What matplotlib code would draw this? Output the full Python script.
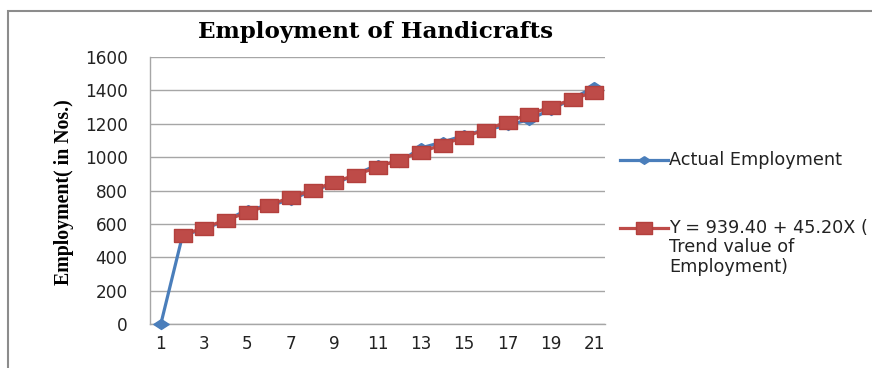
import matplotlib
matplotlib.use("Agg")
import matplotlib.pyplot as plt
from matplotlib.lines import Line2D
from matplotlib.patches import Rectangle

years = list(range(1, 22))
actual = [0, 530, 570, 620, 685, 710, 745, 800, 840, 895, 955,
          970, 1055, 1090, 1130, 1165, 1190, 1225, 1285, 1350, 1420]
trend_x = list(range(2, 22))
trend = [532.6, 577.8, 623.0, 668.2, 713.4, 758.6, 803.8, 849.0, 894.2, 939.4,
         984.6, 1029.8, 1075.0, 1120.2, 1165.4, 1210.6, 1255.8, 1301.0, 1346.2, 1391.4]
xticks = list(range(1, 22, 2))
yticks = list(range(0, 1601, 200))

title = "Employment of Handicrafts"
ylabel = "Employment( in Nos.)"
label_actual = "Actual Employment"
label_trend = "Y = 939.40 + 45.20X (\nTrend value of\nEmployment)"

blue = "#4A7EBB"
red = "#BE4B48"
red_edge = "#B3403D"
sans = ["DejaVu Sans"]
serif_wide = ["DejaVu Serif"]
serif = ["Liberation Serif", "DejaVu Serif"]

diamond = [(0, 0.65), (1, 0), (0, -0.65), (-1, 0), (0, 0.65)]
rect = [(-1, -0.72), (1, -0.72), (1, 0.72), (-1, 0.72), (-1, -0.72)]

W, H = 872, 368
fig = plt.figure(figsize=(W / 100, H / 100), dpi=100)
fig.patch.set_facecolor("white")

# chart border
fig.add_artist(Rectangle((8 / W, -0.05), 1.2, (H - 11) / H + 0.05, transform=fig.transFigure,
                         fill=False, edgecolor="#8C8C8C", linewidth=1.5))

ax = fig.add_axes([150 / W, (H - 324) / H, (605 - 150) / W, (324 - 57) / H])
ax.set_xlim(0.5, 21.5)
ax.set_ylim(0, 1600)
ax.set_yticks(yticks)
ax.set_xticks(xticks)
ax.grid(axis="y", color="#A6A6A6", linewidth=1)
ax.set_axisbelow(True)
for s in ["top", "right"]:
    ax.spines[s].set_visible(False)
for s in ["left", "bottom"]:
    ax.spines[s].set_color("#A6A6A6")
    ax.spines[s].set_linewidth(1)
ax.tick_params(length=0, labelsize=12.2, labelcolor="#222222")
ax.tick_params(axis="y", pad=16)
ax.tick_params(axis="x", pad=8)
for t in ax.get_xticklabels() + ax.get_yticklabels():
    t.set_family(sans)

ax.plot(years, actual, color=blue, linewidth=2.3, marker=diamond, markersize=11,
        markerfacecolor=blue, markeredgecolor=blue, clip_on=False, zorder=3)
ax.plot(trend_x, trend, color=red, linewidth=2.3, marker=rect, markersize=13,
        markerfacecolor=red, markeredgecolor=red_edge, clip_on=False, zorder=4)

fig.text(376 / W, 1 - 32 / H, title, ha="center", va="center", fontsize=16.6,
         fontweight="bold", family=serif_wide)
fig.text(64 / W, 1 - 192 / H, ylabel, ha="center", va="center", rotation=90,
         fontsize=14.3, fontweight="bold", family=serif)

# legend
def fx(px):
    return px / W

def fy(py):
    return 1 - py / H

fig.add_artist(Line2D([fx(620), fx(668)], [fy(160), fy(160)], color=blue, linewidth=2.3,
                      transform=fig.transFigure))
fig.add_artist(Line2D([fx(644)], [fy(160)], color=blue, marker=diamond, markersize=8.5,
                      linestyle="none", transform=fig.transFigure))
fig.text(fx(669), fy(160), label_actual, ha="left", va="center", fontsize=12.7,
         family=sans, color="#222222")
fig.add_artist(Line2D([fx(620), fx(668)], [fy(228), fy(228)], color=red, linewidth=2.3,
                      transform=fig.transFigure))
fig.add_artist(Line2D([fx(644)], [fy(228)], color=red, marker=rect, markersize=12,
                      markeredgecolor=red_edge, linestyle="none", transform=fig.transFigure))
fig.text(fx(669), fy(219), label_trend, ha="left", va="top", fontsize=12.7,
         family=sans, color="#222222", linespacing=1.1)

fig.savefig("out.png", dpi=100)
